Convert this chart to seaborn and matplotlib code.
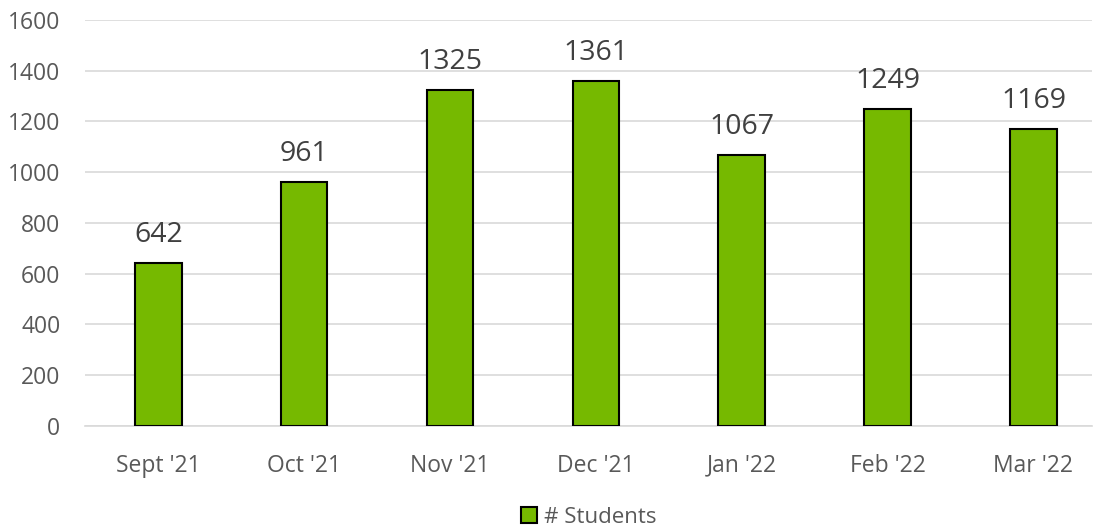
import matplotlib
matplotlib.use("Agg")
import matplotlib.pyplot as plt
import seaborn as sns
import pandas as pd

months = ["Sept '21", "Oct '21", "Nov '21", "Dec '21", "Jan '22", "Feb '22", "Mar '22"]
students = [642, 961, 1325, 1361, 1067, 1249, 1169]
yticks = [0, 200, 400, 600, 800, 1000, 1200, 1400, 1600]

sns.set_theme(style="white")
plt.rcParams['font.family'] = ['Open Sans', 'DejaVu Sans']

df = pd.DataFrame({"Month": months, "# Students": students})
fig = plt.figure(figsize=(10.94, 5.27), dpi=100)
ax = fig.add_axes([0.078, 0.192, 0.92, 0.77])
sns.barplot(data=df, x="Month", y="# Students", color="#76B900", width=0.32,
            edgecolor="black", linewidth=1.5, ax=ax, label="# Students", saturation=1, zorder=3)
ax.set_ylim(0, 1600)
ax.set_yticks(yticks)
ax.set_yticklabels([str(t) for t in yticks])
ax.yaxis.grid(True, color="#d9d9d9", linewidth=1.2, zorder=0)
ax.set_axisbelow(True)
for s in ["top", "right", "left"]:
    ax.spines[s].set_visible(False)
ax.spines["bottom"].set_color("#d9d9d9")
ax.spines["bottom"].set_linewidth(1.2)
ax.set_xlabel("")
ax.set_ylabel("")
ax.tick_params(axis="x", colors="#595959", labelsize=16.5, length=0, pad=20)
ax.tick_params(axis="y", colors="#595959", labelsize=16.5, length=0, pad=18)
for c in ax.containers:
    ax.bar_label(c, labels=[str(v) for v in students], padding=10, fontsize=20.5, color="#404040")
ax.set_xlim(-0.5, 6.4)
leg = ax.legend(loc="upper center", bbox_to_anchor=(0.5, -0.15), frameon=False,
                fontsize=16, handlelength=0.75, handleheight=0.75, handletextpad=0.3)
for t in leg.get_texts():
    t.set_color("#595959")
fig.savefig("out.png", dpi=100)
